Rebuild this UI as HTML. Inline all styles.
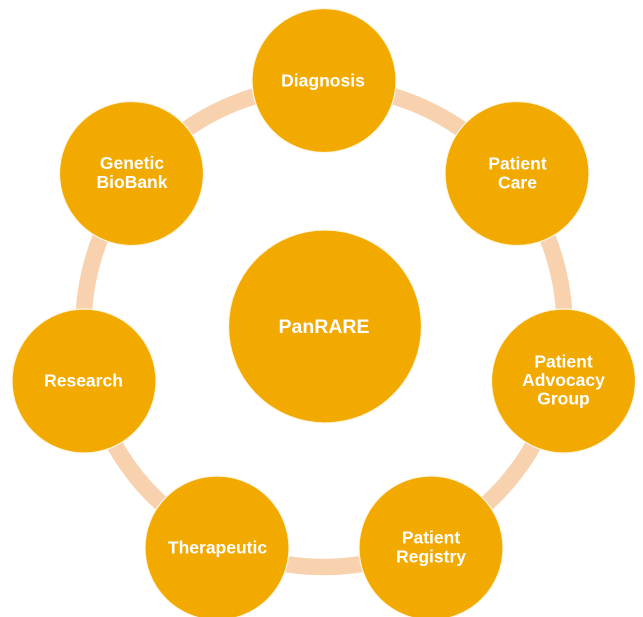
<!DOCTYPE html>
<html>
<head>
<meta charset="utf-8">
<style>
  html, body { margin: 0; padding: 0; background: #ffffff; }
  body { width: 643px; height: 617px; overflow: hidden; }
  svg { display: block; }
  text { font-family: "Liberation Sans", Arial, sans-serif; font-weight: bold; fill: #ffffff; text-anchor: middle; }
</style>
</head>
<body>
<svg width="643" height="617" viewBox="0 0 643 617" xmlns="http://www.w3.org/2000/svg">
  <!-- ring -->
  <circle cx="324" cy="326.5" r="240.5" fill="none" stroke="#F8D1AE" stroke-width="16.5"/>

  <!-- central circle -->
  <circle cx="325" cy="326.5" r="96.5" fill="#F2A900" stroke="#FFF6E0" stroke-width="1.2"/>
  <text x="324" y="333" font-size="19.5">PanRARE</text>

  <!-- outer circles -->
  <g fill="#F2A900" stroke="#FFF6E0" stroke-width="1.2">
    <circle cx="324" cy="80.5" r="72"/>
    <circle cx="517" cy="173.5" r="72"/>
    <circle cx="563.5" cy="381" r="72"/>
    <circle cx="431" cy="548" r="72"/>
    <circle cx="217" cy="548" r="72"/>
    <circle cx="84" cy="381" r="72"/>
    <circle cx="131.5" cy="173.5" r="72"/>
  </g>

  <g font-size="17.5">
    <text x="323" y="86.5">Diagnosis</text>

    <text x="517.5" y="169.5">Patient</text>
    <text x="517.5" y="188.5">Care</text>

    <text x="563.5" y="367.7">Patient</text>
    <text x="563.5" y="386">Advocacy</text>
    <text x="563.5" y="404.3">Group</text>

    <text x="431" y="543.5">Patient</text>
    <text x="431" y="562.5">Registry</text>

    <text x="217.5" y="553.5">Therapeutic</text>

    <text x="83.5" y="386.7">Research</text>

    <text x="132" y="169">Genetic</text>
    <text x="132" y="188">BioBank</text>
  </g>
</svg>
</body>
</html>
